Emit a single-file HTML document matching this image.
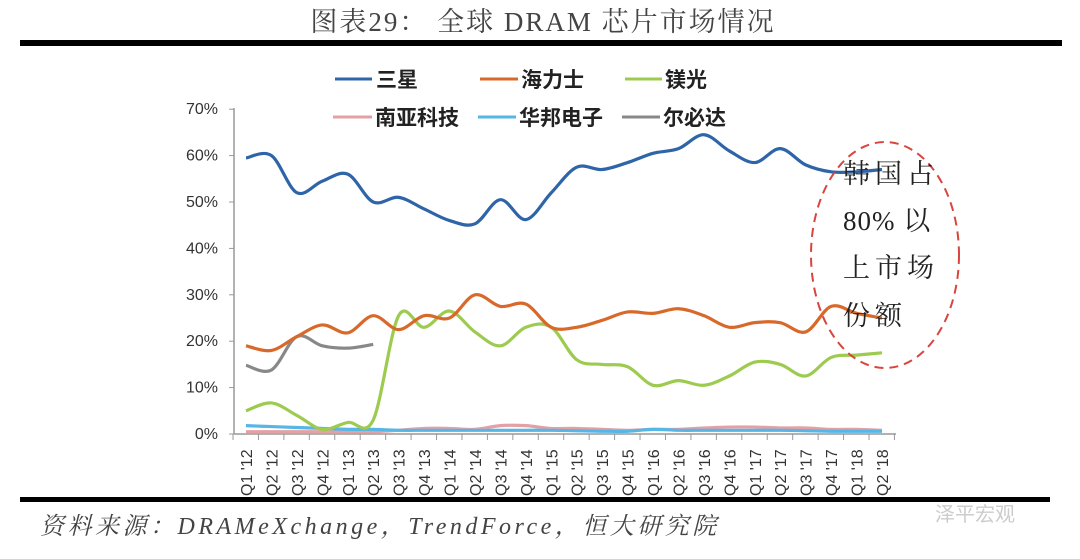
<!DOCTYPE html>
<html><head><meta charset="utf-8"><style>
body{margin:0;background:#fff;width:1080px;height:559px;overflow:hidden;}
svg{display:block}
</style></head><body>
<svg id="s" width="1080" height="559" xmlns="http://www.w3.org/2000/svg">
<text x="543" y="31" text-anchor="middle" letter-spacing="2" font-family="'Liberation Serif','Noto Serif CJK SC',serif" font-size="27" fill="#444">图表29： 全球 DRAM 芯片市场情况</text>
<rect x="20" y="40" width="1042" height="6" fill="#000"/>
<rect x="20" y="497" width="1030" height="5" fill="#000"/>
<text x="40" y="534" letter-spacing="3.5" font-family="'Liberation Serif','Noto Serif CJK SC',serif" font-style="italic" font-size="24" fill="#444">资料来源：DRAMeXchange，TrendForce，恒大研究院</text>
<text x="935" y="521" font-family="'Liberation Sans','Noto Sans CJK SC',sans-serif" font-size="20" fill="#ccc">泽平宏观</text>
<g font-family="'Liberation Sans','Noto Sans CJK SC',sans-serif" font-size="21" font-weight="bold" fill="#222">
<line x1="335" y1="79" x2="372" y2="79" stroke="#2e64a8" stroke-width="3"/><text x="376" y="87">三星</text>
<line x1="480" y1="79" x2="518" y2="79" stroke="#d8692a" stroke-width="3"/><text x="521" y="87">海力士</text>
<line x1="625" y1="79" x2="662" y2="79" stroke="#9ccb4f" stroke-width="3"/><text x="665" y="87">镁光</text>
<line x1="333" y1="117" x2="372" y2="117" stroke="#e3a1a6" stroke-width="3"/><text x="375" y="125">南亚科技</text>
<line x1="478" y1="117" x2="516" y2="117" stroke="#56b6e6" stroke-width="3"/><text x="519" y="125">华邦电子</text>
<line x1="622" y1="117" x2="660" y2="117" stroke="#888" stroke-width="3"/><text x="663" y="125">尔必达</text>
</g>
<g id="ax" font-family="'Liberation Sans',sans-serif" font-size="16" fill="#333"></g>
<g id="ln" fill="none" stroke-width="3.2" stroke-linejoin="round"></g>
<ellipse cx="885" cy="255" rx="74" ry="113" fill="none" stroke="#d9453e" stroke-width="2" stroke-dasharray="9,6"/>
<g font-family="'Liberation Serif','Noto Serif CJK SC',serif" font-size="27" fill="#222" letter-spacing="5">
<text x="843" y="183">韩国占</text>
<text x="843" y="230" letter-spacing="1">80% 以</text>
<text x="843" y="277">上市场</text>
<text x="843" y="325">份额</text>
</g>
</svg>
<script>
var NS="http://www.w3.org/2000/svg";
function el(p,t,a,txt){var e=document.createElementNS(NS,t);for(var k in a)e.setAttribute(k,a[k]);if(txt)e.textContent=txt;p.appendChild(e);return e;}
var ax=document.getElementById('ax'),ln=document.getElementById('ln');
function Y(v){return 434-4.64*v;}
function X(i){return 246+i*25.44;}
el(ax,'line',{x1:234,y1:108,x2:234,y2:434,stroke:'#999','stroke-width':1.5});
el(ax,'line',{x1:234,y1:434,x2:896,y2:434,stroke:'#999','stroke-width':1.5});
for(var v=0;v<=70;v+=10){el(ax,'line',{x1:229,y1:Y(v),x2:234,y2:Y(v),stroke:'#999'});el(ax,'text',{x:218,y:Y(v)+5,'text-anchor':'end'},v+'%');}
var labs=[];for(var y=12;y<=18;y++)for(var q=1;q<=4;q++)labs.push('Q'+q+" '"+y);labs=labs.slice(0,26);
for(var i=0;i<=26;i++){var x=233+i*25.44;el(ax,'line',{x1:x,y1:434,x2:x,y2:440,stroke:'#999'});}
labs.forEach(function(l,i){el(ax,'text',{transform:'translate('+(X(i)+6)+',496) rotate(-90)'},l);});
function path(d,c){var p=d.map(function(v,i){return[X(i),Y(v)]});var s='M'+p[0][0]+','+p[0][1];
for(var i=0;i<p.length-1;i++){var p0=p[i-1]||p[i],p1=p[i],p2=p[i+1],p3=p[i+2]||p2;
s+=' C'+(p1[0]+(p2[0]-p0[0])/6)+','+(p1[1]+(p2[1]-p0[1])/6)+' '+(p2[0]-(p3[0]-p1[0])/6)+','+(p2[1]-(p3[1]-p1[1])/6)+' '+p2[0]+','+p2[1];}
el(ln,'path',{d:s,stroke:c});}
path([0.5,0.5,0.5,0.5,0.5,0.5,0.8,1.2,1.2,1,1.8,1.8,1.2,1.2,1,0.8,1,1,1.3,1.5,1.5,1.3,1.3,1,1,0.8],'#e3a1a6');
path([1.8,1.6,1.4,1.2,1,1,0.8,0.8,0.8,0.8,0.8,0.8,0.8,0.7,0.6,0.6,1,0.8,0.8,0.8,0.8,0.8,0.7,0.6,0.6,0.6],'#56b6e6');
path([14.8,13.8,21,19,18.5,19.3],'#888');
path([5,6.7,4,1,2.5,3,25.5,23,26.5,22,19,23,23,16,15,14.5,10.5,11.5,10.5,12.5,15.5,15,12.5,16.5,17,17.5],'#9ccb4f');
path([19,18,21,23.5,21.8,25.5,22.5,25.5,25,30,27.5,28,23,23,24.5,26.3,26,27,25.5,23,24,24,22,27.5,26,25],'#d8692a');
path([59.5,60,52,54.5,56,50,51,48.5,46,45.3,50.5,46.2,52,57.5,57,58.5,60.5,61.5,64.5,61,58.5,61.5,58,56.5,56.5,57],'#2e64a8');
</script>
</body></html>
